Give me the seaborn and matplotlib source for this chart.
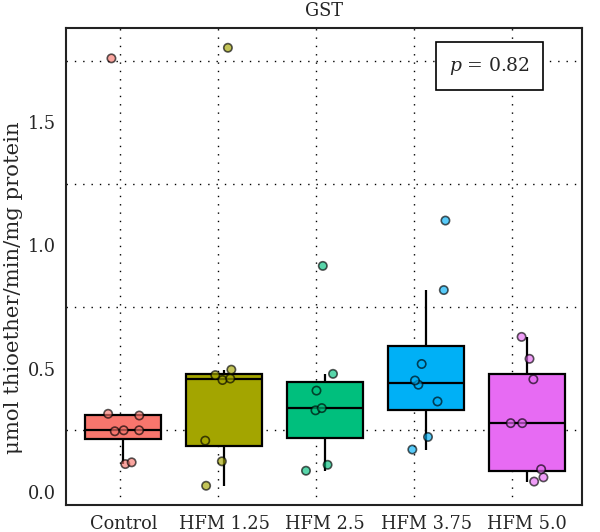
import numpy as np
import pandas as pd
import matplotlib
matplotlib.use("Agg")
import matplotlib.pyplot as plt
import seaborn as sns

# 数据
groups = ["Control", "HFM 1.25", "HFM 2.5", "HFM 3.75", "HFM 5.0"]
control = [0.113, 0.120, 0.246, 0.250, 0.250, 0.310, 0.317, 1.759]
hfm_125 = [0.025, 0.124, 0.208, 0.454, 0.460, 0.474, 0.496, 1.802]
hfm_25 = [0.086, 0.110, 0.331, 0.340, 0.411, 0.479, 0.917]
hfm_375 = [0.172, 0.223, 0.367, 0.435, 0.452, 0.519, 0.819, 1.101]
hfm_50 = [0.042, 0.059, 0.092, 0.279, 0.279, 0.457, 0.540, 0.629]
palette = ["#F8766D", "#A3A500", "#00BF7D", "#00B0F6", "#E76BF3"]
p_text = "$p$ = 0.82"

values = [control, hfm_125, hfm_25, hfm_375, hfm_50]
df = pd.DataFrame({
    "group": np.repeat(groups, [len(v) for v in values]),
    "value": np.concatenate(values),
})

sns.set_style("white")
plt.rcParams["font.family"] = ["DejaVu Serif"]
plt.rcParams["mathtext.fontset"] = "dejavuserif"

fig = plt.figure(figsize=(6, 5.32), dpi=100)
ax = fig.add_axes([0.1095, 0.0508, 0.86, 0.896])

sns.boxplot(data=df, x="group", y="value", hue="group", order=groups,
            palette=palette, saturation=1, width=0.75, showfliers=False,
            showcaps=False, linewidth=1.6, linecolor="black", legend=False, ax=ax)
np.random.seed(3)
sns.stripplot(data=df, x="group", y="value", hue="group", order=groups,
              palette=palette, jitter=0.2, size=6, alpha=0.65,
              edgecolor="black", linewidth=1.2, legend=False, ax=ax)

ax.set_xlim(-0.57, 4.54)
ax.set_ylim(-0.053, 1.881)
ax.set_yticks([0.0, 0.5, 1.0, 1.5])
ax.set_yticks(np.arange(0, 1.8, 0.25), minor=True)
ax.set_xticks(np.arange(5) * 0.97 - 0.03, minor=True)
ax.grid(which="minor", color="black", linestyle=(0, (1, 5)), linewidth=1.0)
ax.tick_params(which="both", length=0, labelsize=12.8, pad=7)
ax.set_axisbelow(True)
for s in ax.spines.values():
    s.set_color("#222222")
    s.set_linewidth(1.5)

ax.set_xlabel("")
ax.set_ylabel("μmol thioether/min/mg protein", fontsize=15.3)
ax.yaxis.set_label_coords(-0.083, 0.455)
ax.set_title("GST", fontsize=12.8, pad=9)

ax.text(0.821, 0.921, p_text, transform=ax.transAxes, fontsize=13.5,
        ha="center", va="center",
        bbox=dict(boxstyle="square,pad=0.7", facecolor="white",
                  edgecolor="black", linewidth=1.2))

fig.savefig("out.png", dpi=100)
